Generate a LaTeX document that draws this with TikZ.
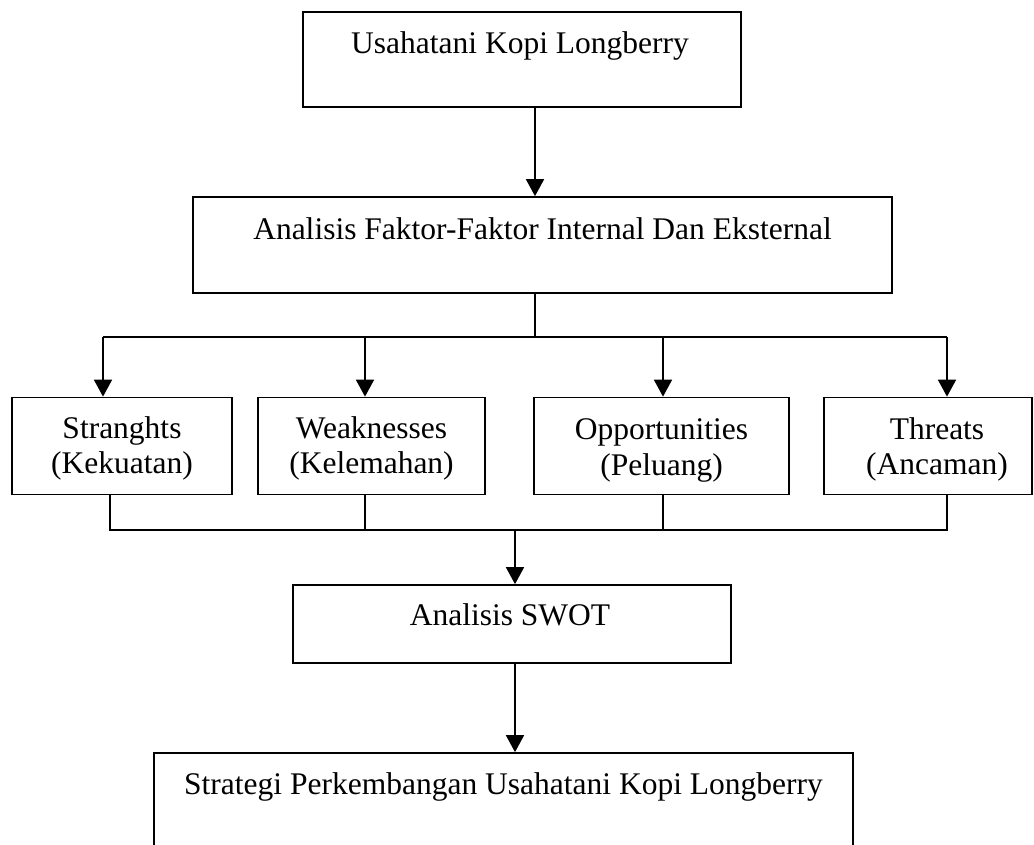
\documentclass[tikz,border=0pt]{standalone}
\usepackage{fontspec}
\setmainfont{Liberation Serif}
\usetikzlibrary{arrows.meta}
\begin{document}
\begin{tikzpicture}[x=1pt,y=-1pt,
  box/.style={draw, line width=1.7pt, inner sep=0pt},
  lbl/.style={font=\fontsize{31.5}{35}\selectfont, anchor=base, inner sep=0pt},
  conn/.style={line width=1.5pt},
  arr/.style={line width=1.7pt, -{Triangle[width=18pt,length=17pt]}}]
\clip (0,0) rectangle (1034,844);
% boxes
\node[box, minimum width=438pt, minimum height=95pt] (top) at (522,59.5) {};
\node[box, minimum width=699pt, minimum height=96pt] (anal) at (542.5,245) {};
\node[box, minimum width=220pt, minimum height=97pt] (s) at (122,446) {};
\node[box, minimum width=227pt, minimum height=97pt] (w) at (371.5,446) {};
\node[box, minimum width=255pt, minimum height=97pt] (o) at (661.5,446) {};
\node[box, minimum width=208pt, minimum height=97pt] (t) at (928,446) {};
\node[box, minimum width=438pt, minimum height=78pt] (swot) at (512,624) {};
\node[box, minimum width=699pt, minimum height=94pt] (strat) at (503.5,800) {};
% labels
\node[lbl] (toplbl) at (520,53) {Usahatani Kopi Longberry};
\node[lbl] (anallbl) at (542.5,239) {Analisis Faktor-Faktor Internal Dan Eksternal};
\node[lbl] (s1) at (122,438) {Stranghts};
\node[lbl] (s2) at (122,473) {(Kekuatan)};
\node[lbl] (w1) at (371.5,438) {Weaknesses};
\node[lbl] (w2) at (371.5,473) {(Kelemahan)};
\node[lbl] (o1) at (661.5,439) {Opportunities};
\begin{scope}
\clip (536,400) rectangle (787,481);
\node[lbl] (o2) at (661.5,475) {(Peluang)};
\end{scope}
\node[lbl] (t1) at (937,439) {Threats};
\node[lbl] (t2) at (937,474) {(Ancaman)};
\node[lbl] (swotlbl) at (510,625) {Analisis SWOT};
\node[lbl] (stratlbl) at (503.5,794) {Strategi Perkembangan Usahatani Kopi Longberry};
% coordinates
\coordinate (a1) at (535,0);
\coordinate (j1) at (535,337);
\coordinate (d1) at (103,337);
\coordinate (d2) at (365,337);
\coordinate (d3) at (663,337);
\coordinate (d4) at (947,337);
\coordinate (b1) at (110,530);
\coordinate (b2) at (365,530);
\coordinate (b3) at (663,530);
\coordinate (b4) at (947,530);
\coordinate (j2) at (515,530);
% connectors
\draw[arr] (top.south -| a1) -- (anal.north -| a1);
\draw[conn] (anal.south -| j1) -- (j1);
\draw[conn] (d1) -- (d4);
\draw[arr] (d1) -- (d1 |- s.north);
\draw[arr] (d2) -- (d2 |- w.north);
\draw[arr] (d3) -- (d3 |- o.north);
\draw[arr] (d4) -- (d4 |- t.north);
\draw[conn] (b1 |- s.south) -- (b1) -- (b4) -- (b4 |- t.south);
\draw[conn] (b2 |- w.south) -- (b2);
\draw[conn] (b3 |- o.south) -- (b3);
\draw[arr] (j2) -- (j2 |- swot.north);
\draw[arr] (swot.south -| j2) -- (strat.north -| j2);
\end{tikzpicture}
\end{document}
